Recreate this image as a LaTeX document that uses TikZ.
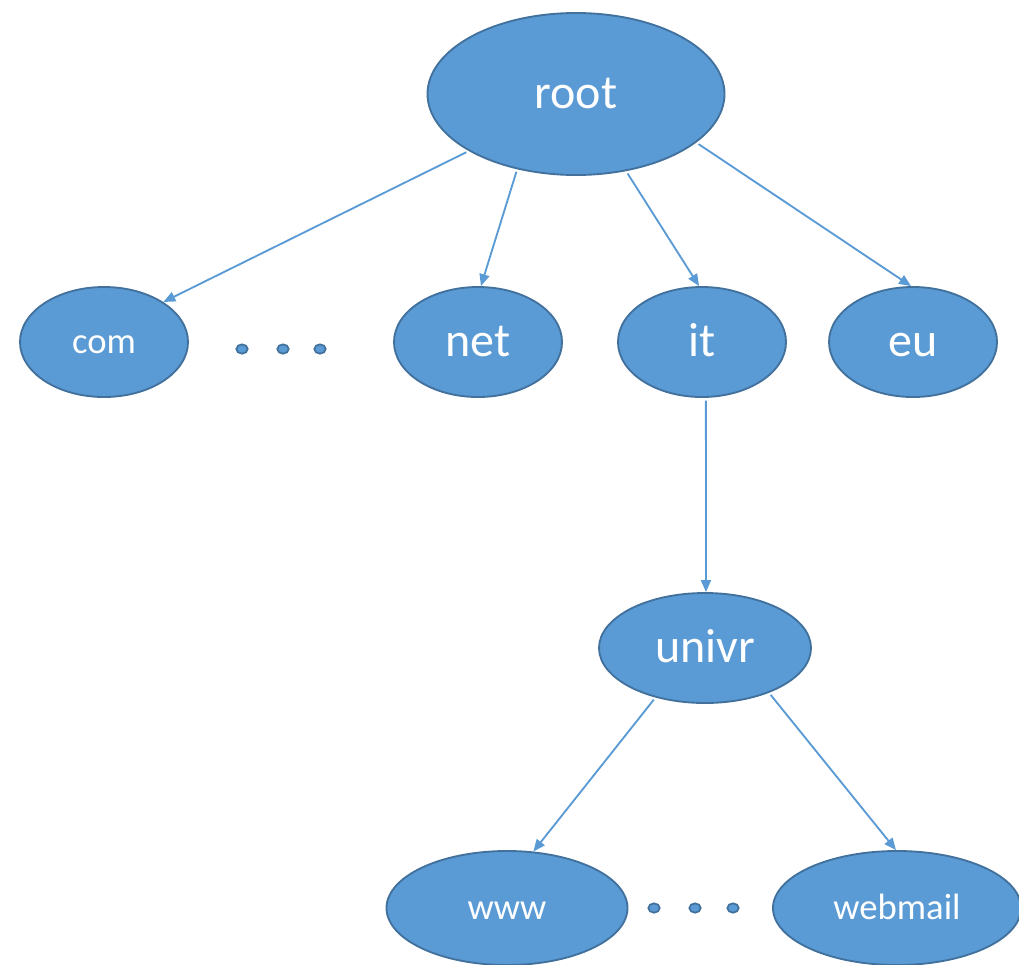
\documentclass[tikz,border=0pt]{standalone}
\usepackage{fontspec}
\setmainfont{Carlito}
\usetikzlibrary{shapes.geometric,arrows.meta}
\definecolor{nodefill}{HTML}{5B9BD5}
\definecolor{nodeline}{HTML}{41719C}
\begin{document}
\begin{tikzpicture}[x=0.75pt,y=-0.75pt,
  dnsnode/.style={ellipse,draw=nodeline,line width=1.4pt,fill=nodefill,text=white,inner sep=0pt},
  bigtext/.style={font=\fontsize{36}{40}\selectfont,text height=21pt,text depth=0pt},
  smalltext/.style={font=\fontsize{27.5}{31}\selectfont,text height=16.5pt,text depth=0pt},
  small/.style={minimum width=126pt,minimum height=82.5pt},
  link/.style={draw=nodefill,line width=1.4pt,-{Triangle[length=9pt,width=7.5pt]},shorten <=2pt},
  dotmark/.style={ellipse,draw=nodeline,line width=1.3pt,fill=nodefill,minimum width=8.5pt,minimum height=7pt,inner sep=0pt}]
\useasboundingbox (0,0) rectangle (1019,964);
\node[dnsnode,bigtext,minimum width=222.75pt,minimum height=121.5pt] (root) at (576,94) {root};
\node[dnsnode,smalltext,small] (com) at (104,342) {com};
\node[dnsnode,bigtext,small] (net) at (478,342) {net};
\node[dnsnode,bigtext,small] (it) at (702,342) {it};
\node[dnsnode,bigtext,small] (eu) at (913,342) {eu};
\node[dnsnode,bigtext,minimum width=159pt,minimum height=82.5pt] (univr) at (705,648) {univr};
\node[dnsnode,smalltext,minimum width=180.75pt,minimum height=85.5pt] (www) at (507,908) {www};
\node[dnsnode,smalltext,minimum width=186pt,minimum height=85.5pt] (webmail) at (897,908) {webmail};
\node[dotmark] (d1) at (242,349) {};
\node[dotmark] (d2) at (283,349) {};
\node[dotmark] (d3) at (320,349) {};
\node[dotmark] (d4) at (654,908) {};
\node[dotmark] (d5) at (695,908) {};
\node[dotmark] (d6) at (733,908) {};
\draw[link] (root.208.6) -- (com.34.7);
\draw[link] (root.232.8) -- (net.87);
\draw[link] (root.303.5) -- (it.93);
\draw[link] (root.338) -- (eu.92);
\draw[link] (it.274) -- (univr.89);
\draw[link] (univr.225) -- (www.65);
\draw[link] (univr.325) -- (webmail.91);
\end{tikzpicture}
\end{document}
